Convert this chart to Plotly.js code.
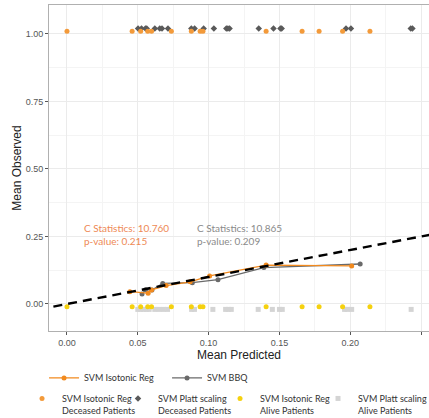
<!DOCTYPE html>
<html>
<head>
<meta charset="utf-8">
<script src="https://cdn.plot.ly/plotly-3.0.1.min.js"></script>
<style>
  html, body { margin: 0; padding: 0; background: #fff; }
  #chart { width: 429px; height: 418px; }
</style>
</head>
<body>
<div id="chart"></div>
<script>
// Calibration curves (mean predicted vs mean observed per bin)
const isoPred = [0.0444, 0.0573, 0.0597, 0.0700, 0.0870, 0.1007, 0.1406, 0.2010];
const isoObs  = [0.0456, 0.0400, 0.0520, 0.0680, 0.0820, 0.1040, 0.1440, 0.1410];
const bbqPred = [0.0530, 0.0555, 0.0600, 0.0676, 0.0885, 0.1066, 0.1390, 0.2070];
const bbqObs  = [0.0370, 0.0530, 0.0520, 0.0760, 0.0790, 0.0900, 0.1350, 0.1480];

// Individual patient predictions (rug rows at the top and bottom)
const isoDeceased = [0.000, 0.046, 0.052, 0.057, 0.0597, 0.0737, 0.0878, 0.094, 0.096, 0.1406, 0.166, 0.178, 0.1946, 0.2139];
const isoAlive    = [0.000, 0.046, 0.052, 0.057, 0.0597, 0.0737, 0.0878, 0.094, 0.096, 0.1406, 0.166, 0.178, 0.1946, 0.2139];
const plattDeceased = [0.0502, 0.0526, 0.0554, 0.0563, 0.0620, 0.0655, 0.0671, 0.0713, 0.0878, 0.0901, 0.0965, 0.1037,
                       0.1125, 0.1136, 0.1148, 0.1354, 0.1458, 0.1507, 0.1516, 0.1970, 0.2005, 0.2427, 0.2439];
const plattAlive    = [0.0500, 0.0520, 0.0540, 0.0560, 0.0580, 0.0620, 0.0650, 0.0680, 0.0710, 0.0880, 0.0900, 0.1030,
                       0.1120, 0.1140, 0.1160, 0.1350, 0.1450, 0.1500, 0.1520, 0.1960, 0.1980, 0.2010, 0.2430];

// Outcome rows (slightly offset so the groups do not overlap)
const rowIsoDeceased = 1.01, rowPlattDeceased = 1.02, rowIsoAlive = -0.01, rowPlattAlive = -0.02;

// Perfect calibration reference
const diagonal = [-0.02, 0.27];

const stats = {
  iso: { c: '10.760', p: '0.215' },
  bbq: { c: '10.865', p: '0.209' }
};

const ORANGE = '#F28A1E', GREY = '#6a6a6a';
const fill = (arr, v) => arr.map(() => v);

const traces = [
  { x: plattAlive, y: fill(plattAlive, rowPlattAlive), type: 'scatter', mode: 'markers',
    name: 'SVM Platt scaling<br>Alive Patients', legend: 'legend2', legendrank: 4, legendwidth: 64,
    marker: { symbol: 'square', size: 5, color: '#d4d4d4' }, hoverinfo: 'skip' },
  { x: isoAlive, y: fill(isoAlive, rowIsoAlive), type: 'scatter', mode: 'markers',
    name: 'SVM Isotonic Reg<br>Alive Patients', legend: 'legend2', legendrank: 3, legendwidth: 53,
    marker: { symbol: 'circle', size: 5, color: '#F5D10F' }, hoverinfo: 'skip' },
  { x: plattDeceased, y: fill(plattDeceased, rowPlattDeceased), type: 'scatter', mode: 'markers',
    name: 'SVM Platt scaling<br>Deceased Patients', legend: 'legend2', legendrank: 2, legendwidth: 57,
    marker: { symbol: 'diamond', size: 5, color: '#5a5a5a' }, hoverinfo: 'skip' },
  { x: isoDeceased, y: fill(isoDeceased, rowIsoDeceased), type: 'scatter', mode: 'markers',
    name: 'SVM Isotonic Reg<br>Deceased Patients', legend: 'legend2', legendrank: 1, legendwidth: 51,
    marker: { symbol: 'circle', size: 5, color: '#F39A3A' }, hoverinfo: 'skip' },
  { x: bbqPred, y: bbqObs, type: 'scatter', mode: 'lines+markers', name: 'SVM BBQ',
    legend: 'legend', legendrank: 2,
    line: { color: GREY, width: 1.3 }, marker: { color: GREY, size: 5 } },
  { x: isoPred, y: isoObs, type: 'scatter', mode: 'lines+markers', name: 'SVM Isotonic Reg',
    legend: 'legend', legendrank: 1,
    line: { color: ORANGE, width: 1.3 }, marker: { color: ORANGE, size: 5 } },
  { x: diagonal, y: diagonal, type: 'scatter', mode: 'lines', showlegend: false,
    line: { color: '#000', width: 2.4, dash: '9px,6px' }, hoverinfo: 'skip' }
];

const tickFont = { family: 'Liberation Sans, Arial, sans-serif', size: 9, color: '#555' };
const titleFont = { family: 'Liberation Sans, Arial, sans-serif', size: 12, color: '#222' };
const legendFont = { family: 'Lato, sans-serif', size: 9, color: '#333' };

const layout = {
  width: 429, height: 418,
  margin: { l: 49, r: 0, t: 5, b: 87, autoexpand: false },
  paper_bgcolor: '#fff', plot_bgcolor: '#fff',
  showlegend: true,
  xaxis: {
    range: [-0.0127, 0.2556], tickvals: [0, 0.05, 0.1, 0.15, 0.2, 0.25], tickformat: '.2f',
    ticks: 'outside', ticklen: 3, tickcolor: '#555', tickfont: tickFont,
    showgrid: true, gridcolor: '#ebebeb', gridwidth: 1, zeroline: false,
    minor: { dtick: 0.025, tick0: 0, showgrid: true, gridcolor: '#f4f4f4', gridwidth: 1 },
    showline: true, linecolor: '#b0b0b0', linewidth: 1, mirror: true,
    title: { text: 'Mean Predicted', font: titleFont, standoff: 3 }
  },
  yaxis: {
    range: [-0.1, 1.107], tickvals: [0, 0.25, 0.5, 0.75, 1], tickformat: '.2f',
    ticks: 'outside', ticklen: 3, tickcolor: '#555', tickfont: tickFont,
    showgrid: true, gridcolor: '#ebebeb', gridwidth: 1, zeroline: false,
    minor: { dtick: 0.125, tick0: 0, showgrid: true, gridcolor: '#f4f4f4', gridwidth: 1 },
    showline: true, linecolor: '#b0b0b0', linewidth: 1, mirror: true,
    title: { text: 'Mean Observed', font: titleFont, standoff: 1 }
  },
  legend: {
    orientation: 'h', x: -0.013, xanchor: 'left', y: -0.144, yanchor: 'middle',
    font: legendFont, bgcolor: 'rgba(0,0,0,0)', entrywidth: 78, traceorder: 'normal'
  },
  legend2: {
    orientation: 'h', x: -0.071, xanchor: 'left', y: -0.169, yanchor: 'top',
    font: legendFont, bgcolor: 'rgba(0,0,0,0)', valign: 'top',
    traceorder: 'normal', itemwidth: 30
  },
  annotations: [
    { xref: 'x', yref: 'y', x: 0.0105, y: 0.256, xanchor: 'left', yanchor: 'middle', align: 'left',
      showarrow: false, font: { family: 'Lato, sans-serif', size: 10, color: '#EE8955' },
      text: 'C Statistics: ' + stats.iso.c + '<br>p-value: ' + stats.iso.p },
    { xref: 'x', yref: 'y', x: 0.0905, y: 0.256, xanchor: 'left', yanchor: 'middle', align: 'left',
      showarrow: false, font: { family: 'Lato, sans-serif', size: 10, color: '#8a8a8a' },
      text: 'C Statistics: ' + stats.bbq.c + '<br>p-value: ' + stats.bbq.p }
  ]
};

Plotly.newPlot('chart', traces, layout, { displayModeBar: false, staticPlot: true });
</script>
</body>
</html>
